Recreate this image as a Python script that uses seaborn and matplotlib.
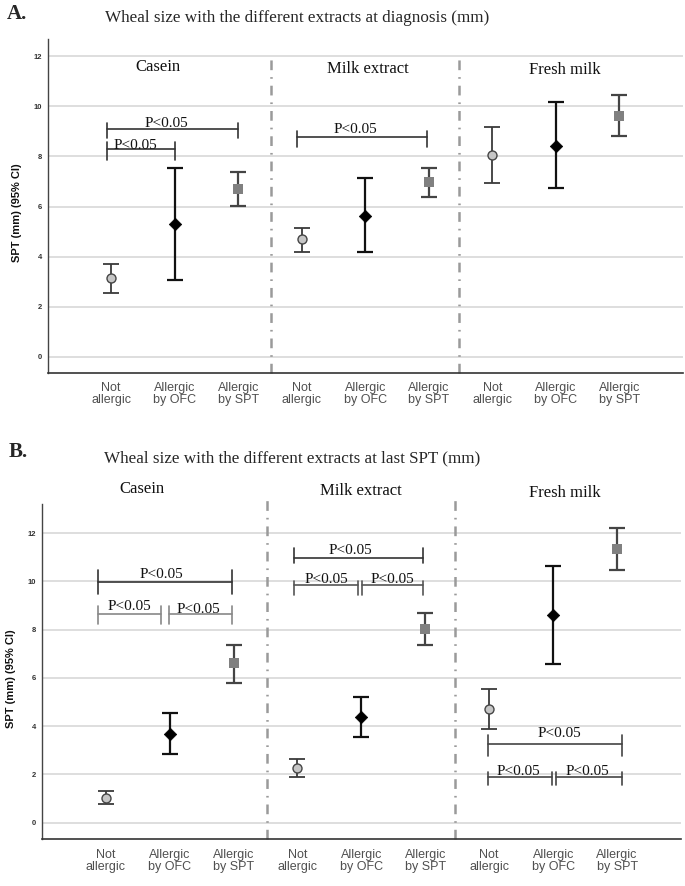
import matplotlib
matplotlib.use("Agg")
import matplotlib.pyplot as plt
import numpy as np
import pandas as pd
import seaborn as sns

# ---------------- data ----------------
groups = ["Casein", "Milk extract", "Fresh milk"]
status = ["Not\nallergic", "Allergic\nby OFC", "Allergic\nby SPT"]

# Panel A: at diagnosis
A_mean = [3.14, 5.29, 6.69, 4.70, 5.64, 6.96, 8.06, 8.43, 9.63]
A_low = [2.55, 3.05, 6.03, 4.20, 4.19, 6.40, 6.92, 6.72, 8.83]
A_high = [3.70, 7.54, 7.37, 5.16, 7.12, 7.52, 9.19, 10.16, 10.45]

# Panel B: at last SPT
B_mean = [1.04, 3.66, 6.61, 2.28, 4.37, 8.03, 4.70, 8.61, 11.33]
B_low = [0.76, 2.85, 5.80, 1.91, 3.54, 7.38, 3.87, 6.57, 10.45]
B_high = [1.31, 4.53, 7.35, 2.64, 5.20, 8.69, 5.53, 10.64, 12.20]

sig_label = "P<0.05"
title_A = "Wheal size with the different extracts at diagnosis (mm)"
title_B = "Wheal size with the different extracts at last SPT (mm)"
y_label = "SPT (mm) (95% CI)"
y_ticks = [0, 2, 4, 6, 8, 10, 12]

# significance annotations: (x0, x1, y, up, down, color)
brackets_A = [
    (-0.07, 2.00, 9.09, 0.24, 0.37, "#333333"),
    (-0.07, 1.00, 8.29, 0.30, 0.43, "#333333"),
    (2.93, 4.97, 8.78, 0.22, 0.39, "#333333"),
]
labels_A = [(0.875, 9.17), (0.385, 8.31), (3.85, 8.92)]

brackets_B = [
    (-0.125, 1.97, 9.98, 0.50, 0.50, "#333333"),
    (-0.125, 0.86, 8.65, 0.31, 0.41, "#888888"),
    (0.99, 1.98, 8.65, 0.31, 0.41, "#888888"),
    (2.95, 4.96, 10.97, 0.41, 0.22, "#333333"),
    (2.95, 3.95, 9.83, 0.20, 0.39, "#555555"),
    (4.01, 4.97, 9.83, 0.20, 0.39, "#555555"),
    (5.98, 8.08, 3.26, 0.38, 0.49, "#444444"),
    (5.98, 6.98, 1.89, 0.22, 0.33, "#444444"),
    (7.04, 8.07, 1.89, 0.22, 0.33, "#444444"),
]
labels_B = [(0.875, 10.12), (0.37, 8.80), (1.45, 8.70),
            (3.83, 11.15), (3.45, 9.93), (4.48, 9.93),
            (7.10, 3.55), (6.45, 1.99), (7.54, 1.99)]

# ---------------- style ----------------
sns.set_theme(style="white")
plt.rcParams["font.family"] = ["Liberation Sans", "DejaVu Sans"]
plt.rcParams["lines.scale_dashes"] = False
SERIF = ["Liberation Serif", "DejaVu Serif"]

marker_styles = [
    dict(marker="o", color="#c6c6c6", edgecolor="#454545", linewidth=1.0, s=42),
    dict(marker="D", color="#000000", edgecolor="#000000", linewidth=0.5, s=40),
    dict(marker="s", color="#808080", edgecolor="#808080", linewidth=0.0, s=42),
]
err_styles = [
    dict(ecolor="#3a3a3a", elinewidth=1.3, capthick=1.3),
    dict(ecolor="#111111", elinewidth=1.6, capthick=1.6),
    dict(ecolor="#444444", elinewidth=1.6, capthick=1.6),
]


def build_df(mean, low, high):
    rows = []
    for gi, g in enumerate(groups):
        for si, s in enumerate(status):
            i = gi * 3 + si
            rows.append(dict(group=g, status=s, pos=i,
                             mean=mean[i], low=low[i], high=high[i]))
    return pd.DataFrame(rows)


def draw_panel(ax, df, ylim, brackets, labels, sep_top, group_y):
    ax.set_xlim(-1, 9)
    ax.set_ylim(*ylim)
    ax.set_yticks(y_ticks)
    ax.yaxis.grid(True, color="#d4d4d4", linewidth=1.1)
    ax.xaxis.grid(False)
    ax.set_axisbelow(True)

    for si, s in enumerate(status):
        sub = df[df["status"] == s]
        ax.errorbar(sub["pos"], sub["mean"],
                    yerr=[sub["mean"] - sub["low"], sub["high"] - sub["mean"]],
                    fmt="none", capsize=5.8, zorder=3, **err_styles[si])
        sns.scatterplot(data=sub, x="pos", y="mean", ax=ax, legend=False,
                        zorder=4, **marker_styles[si])

    ax.set_xlabel("")
    ax.set_ylabel("")
    ax.set_xticks(range(9))
    ax.set_xticklabels(status * 3, linespacing=0.95)
    ax.tick_params(axis="x", length=0, pad=7, labelsize=9, labelcolor="#505050")
    ax.tick_params(axis="y", length=0, pad=4, labelsize=5.5, labelcolor="#333333")
    for lab in ax.get_yticklabels():
        lab.set_fontweight("bold")

    for side in ["top", "right"]:
        ax.spines[side].set_visible(False)
    ax.spines["left"].set_color("#444444")
    ax.spines["bottom"].set_color("#333333")
    ax.spines["left"].set_linewidth(1.0)
    ax.spines["bottom"].set_linewidth(1.2)

    # group separators
    for xs in [2.52, 5.47]:
        ax.plot([xs, xs], [ylim[0], sep_top], color="#9a9a9a", linewidth=1.8,
                linestyle=(0, (7.0, 5.0, 1.2, 5.0)), clip_on=False, zorder=2)

    # group names
    for (gx, gy), g in zip(group_y, groups):
        ax.text(gx, gy, g, ha="center", va="center", fontsize=12,
                family=SERIF, color="#111111", clip_on=False)

    # significance brackets
    for x0, x1, y, up, dn, col in brackets:
        ax.plot([x0, x1], [y, y], color=col, linewidth=1.2, zorder=3)
        for xe in (x0, x1):
            ax.plot([xe, xe], [y - dn, y + up], color=col, linewidth=1.2, zorder=3)
    for lx, ly in labels:
        ax.text(lx, ly, sig_label, ha="center", va="baseline", fontsize=11,
                family=SERIF, color="#111111", zorder=5)


fig = plt.figure(figsize=(6.85, 8.86), dpi=100)
axA = fig.add_axes([0.0696, 0.5793, 0.9275, 0.3763])
axB = fig.add_axes([0.0609, 0.0527, 0.9333, 0.3784])

dfA = build_df(A_mean, A_low, A_high)
dfB = build_df(B_mean, B_low, B_high)

draw_panel(axA, dfA, (-0.63, 12.67), brackets_A, labels_A, 12.0,
           [(0.73, 11.57), (4.04, 11.49), (7.14, 11.45)])
draw_panel(axB, dfB, (-0.69, 13.2), brackets_B, labels_B, 13.45,
           [(0.56, 13.83), (4.0, 13.72), (7.18, 13.67)])

# y labels
for ax, yc in [(axA, 0.48), (axB, 0.48)]:
    ax.text(-0.048, yc, y_label, rotation=90, ha="center", va="center",
            fontsize=8, fontweight="bold", color="#111111",
            transform=ax.transAxes)

# panel letters and titles
W, H = 685.0, 886.0
fig.text(7.0 / W, 1 - 14 / H, "A.", fontsize=15, fontweight="bold",
         family=SERIF, ha="left", va="center")
fig.text(105 / W, 1 - 18 / H, title_A, fontsize=12.3, family=SERIF,
         ha="left", va="center")
fig.text(8.5 / W, 1 - 452 / H, "B.", fontsize=15, fontweight="bold",
         family=SERIF, ha="left", va="center")
fig.text(103.5 / W, 1 - 458 / H, title_B, fontsize=12.3, family=SERIF,
         ha="left", va="center")

fig.savefig("out.png", dpi=100, facecolor="white")
